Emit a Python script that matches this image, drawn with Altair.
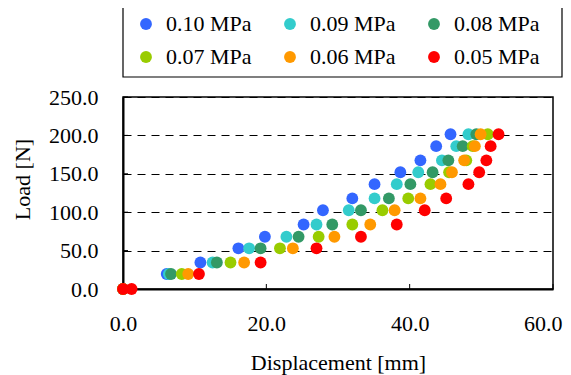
import altair as alt
import pandas as pd

series = ["0.10 MPa", "0.09 MPa", "0.08 MPa", "0.07 MPa", "0.06 MPa", "0.05 MPa"]
colors = ["#3366FF", "#33CCCC", "#339966", "#99CC00", "#FF9900", "#FF0000"]

load_levels = [0, 19.5, 34.5, 53, 68, 84, 102.5, 118, 136.5, 152, 167.5, 186, 201.5]
load_005 = [0, 0, 19.5, 34.5, 53, 68, 84, 102.5, 118, 136.5, 152, 167.5, 186, 201.5]

disp_010 = [0, 6.1, 10.8, 16.1, 19.8, 25.2, 27.9, 32.0, 35.1, 38.7, 41.5, 43.7, 45.7]
disp_009 = [0, 6.4, 12.5, 17.6, 22.8, 27.0, 31.5, 35.1, 38.2, 41.2, 44.5, 46.5, 48.2]
disp_008 = [0, 6.7, 13.1, 19.2, 24.5, 29.2, 33.2, 37.1, 40.1, 43.2, 45.4, 47.4, 49.3]
disp_007 = [0, 8.2, 15.0, 21.9, 27.3, 32.0, 36.2, 39.8, 42.9, 45.5, 47.9, 48.8, 50.9]
disp_006 = [0, 9.1, 16.9, 23.7, 29.5, 34.5, 37.9, 41.5, 44.3, 45.9, 47.6, 49.1, 49.9]
disp_005 = [0, 1.2, 10.6, 19.2, 27.0, 33.2, 38.2, 42.1, 45.1, 48.2, 49.7, 50.7, 51.3, 52.4]

x_ticks = [0, 20, 40, 60]
y_ticks = [0, 50, 100, 150, 200, 250]

rows = []
for name, disp, loads in [
    (series[0], disp_010, load_levels),
    (series[1], disp_009, load_levels),
    (series[2], disp_008, load_levels),
    (series[3], disp_007, load_levels),
    (series[4], disp_006, load_levels),
    (series[5], disp_005, load_005),
]:
    for d, l in zip(disp, loads):
        rows.append({"series": name, "disp": d, "load": l})
df = pd.DataFrame(rows)

FONT = "Liberation Serif"

x_scale = alt.Scale(domain=[0, 60], nice=False, zero=True)
y_scale = alt.Scale(domain=[0, 250], nice=False, zero=True)

x_axis = alt.Axis(values=x_ticks, format=".1f", title="Displacement [mm]", grid=False,
                  ticks=False, labelPadding=24, labelFlush=False, domainColor="black",
                  domainWidth=2, titleY=73, titleBaseline="middle", titleAlign="center",
                  labelAlign={"expr": "datum.value == 60 ? 'right' : 'center'"},
                  labelOffset={"expr": "datum.value == 60 ? 9 : 0"})
y_axis = alt.Axis(values=y_ticks, format=".1f", title="Load [N]", grid=True,
                  gridDash=[8, 6], gridColor="black", gridWidth=1, gridOpacity=1,
                  ticks=False, labelPadding=25, labelFlush=False, domainColor="black",
                  domainWidth=2, titleX=-101, titleY=82, titleAngle=-90,
                  titleBaseline="middle", titleAlign="center")

# legend frame (decoration, positioned in pixels relative to the plot area)
legend_box = alt.Chart(pd.DataFrame({"k": [0]})).mark_rect(
    fill="white", stroke="black", strokeWidth=1.2
).encode(x=alt.value(0), x2=alt.value(439), y=alt.value(-90), y2=alt.value(-20))

points = alt.Chart(df).mark_circle(size=140, opacity=1).encode(
    x=alt.X("disp:Q", scale=x_scale, axis=x_axis),
    y=alt.Y("load:Q", scale=y_scale, axis=y_axis),
    color=alt.Color("series:N", scale=alt.Scale(domain=series, range=colors),
                    legend=alt.Legend(orient="none", legendX=12, legendY=-84, columns=3,
                                      direction="horizontal", title=None,
                                      symbolType="circle", symbolSize=140,
                                      labelFont=FONT, labelFontSize=22, labelColor="black",
                                      padding=0, columnPadding=27, rowPadding=11,
                                      labelOffset=9, labelLimit=300)),
)

ytick = alt.Chart(pd.DataFrame({"load": y_ticks})).mark_rule(color="black", strokeWidth=1).encode(
    y=alt.Y("load:Q", scale=y_scale, axis=y_axis), x=alt.value(0), x2=alt.value(5)
)
xtick = alt.Chart(pd.DataFrame({"disp": x_ticks})).mark_rule(color="black", strokeWidth=1).encode(
    x=alt.X("disp:Q", scale=x_scale, axis=x_axis), y=alt.value(192), y2=alt.value(187)
)

chart = alt.layer(legend_box, ytick, xtick, points).properties(
    width=430, height=192,
    autosize=alt.AutoSizeParams(type="none"),
    padding={"left": 115, "top": 89, "right": 10, "bottom": 86},
    background="white",
).configure_view(stroke="black", strokeWidth=1.5).configure_axis(
    labelFont=FONT, labelFontSize=22, labelColor="black",
    titleFont=FONT, titleFontSize=22, titleFontWeight="normal", titleColor="black",
)

chart.save("out.html", embed_options={"renderer": "svg", "actions": False})
